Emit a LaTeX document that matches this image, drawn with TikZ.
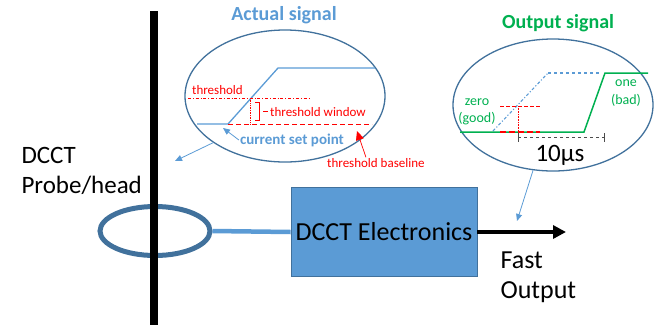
\documentclass[tikz,border=0pt]{standalone}
\usepackage{fontspec}
\setmainfont{Carlito}
\usepackage{xcolor}
\usetikzlibrary{arrows.meta,shapes.geometric,positioning}

\definecolor{rim}{RGB}{65,113,156}
\definecolor{sky}{RGB}{91,155,213}
\definecolor{okgreen}{RGB}{0,176,80}
\definecolor{alarm}{RGB}{255,0,0}

\tikzset{
	callout/.style={ellipse, draw=rim, line width=1.3pt, inner sep=0pt, minimum width=200pt, minimum height=132pt},
	bigtext/.style={font=\fontsize{26}{30}\selectfont},
	redtext/.style={alarm, font=\fontsize{13}{15}\selectfont, inner sep=1pt},
	greentext/.style={okgreen, font=\fontsize{14}{16}\selectfont, inner sep=1pt},
	pointer/.style={sky, line width=0.8pt, -{Triangle[length=7pt,width=6pt]}}
}

\begin{document}
\begin{tikzpicture}[x=1pt, y=-1pt]
			\useasboundingbox (0,0) rectangle (656,325);

			\node[ellipse, draw=rim, line width=5pt, inner sep=0pt, minimum width=110pt, minimum height=49pt] (ring) at (155,231) {};
			\draw[line width=8pt] (154,11) -- (154,325);
			\node[bigtext, anchor=base west, font=\fontsize{25}{30}\selectfont] (dccttop) at (18,163) {DCCT};
			\node[bigtext, anchor=base west, font=\fontsize{25}{30}\selectfont] (probe) at (18,193) {Probe/head};

			\node[rectangle, fill=sky, draw=rim, line width=0.8pt, minimum width=186pt, minimum height=89pt, inner sep=0pt, bigtext] (elec) at (384,232) {DCCT Electronics};
			\draw[sky, line width=4.5pt] (ring.east) -- (elec.west);
			\coordinate (fastend) at (566,232);
			\draw[line width=3.5pt, -{Triangle[length=13pt,width=13pt]}] (elec.east) -- (fastend);
			\node[bigtext, anchor=base west] (fast) at (497,268) {Fast};
			\node[bigtext, anchor=base west] (fastout) at (497,298) {Output};

			\node[callout] (actual) at (285,96) {};
			\node[sky, font=\fontsize{20}{24}\selectfont\bfseries] (actualtitle) at (284,15) {Actual signal};
			\draw[sky, line width=1.3pt] (197,124) -- (228,124) -- (278,68) -- (375,68);
			\draw[alarm, line width=0.7pt, dash dot] (188,98) -- (310,98);
			\node[redtext, anchor=base west] (thr) at (191,94) {threshold};
			\draw[alarm, line width=0.7pt, densely dotted] (250,98) -- (250,124);
			\draw[alarm, line width=0.7pt] (255,102) -- (259,102) -- (259,120) -- (255,120);
			\draw[alarm, line width=0.7pt] (263,111) -- (268,111);
			\node[redtext, anchor=west] (thrwin) at (269,112) {threshold window};
			\draw[alarm, line width=0.7pt, dash pattern=on 5pt off 3pt] (228,124) -- (372,124);
			\node[sky, font=\fontsize{15}{18}\selectfont\bfseries, inner sep=1pt] (setpt) at (292,140) {current set point};
			\coordinate (corner) at (223,128);
			\draw[pointer] (setpt.west) -- (corner);
			\node[redtext, anchor=west] (thrbase) at (326,163) {threshold baseline};
			\coordinate (basetip) at (357,131);
			\draw[alarm, line width=0.7pt, -{Triangle[length=9pt,width=8pt]}] (thrbase.150) -- (basetip);
			\coordinate (probetip) at (175,161);
			\draw[pointer] (actual.213) -- (probetip);

			\node[callout] (output) at (553,105) {};
			\node[okgreen, font=\fontsize{20}{24}\selectfont\bfseries] (outputtitle) at (558,23) {Output signal};
			\draw[sky, line width=1.1pt, dash dot] (493,131) -- (548,73);
			\draw[sky, line width=1.1pt, dashed] (548,73) -- (600,73);
			\draw[okgreen, line width=1.5pt] (460,132) -- (584,132) -- (605,73) -- (648,73);
			\draw[alarm, line width=0.6pt, dash pattern=on 4pt off 2pt] (500,106) -- (540,106);
			\draw[alarm, line width=0.6pt, densely dotted] (518,106) -- (518,132);
			\draw[alarm, line width=2pt, dash pattern=on 6pt off 3pt] (500,132) -- (540,132);
			\draw[black!70, line width=1pt] (518,133) -- (518,142);
			\draw[black!70, line width=1pt] (604,133) -- (604,142);
			\draw[black!70, line width=0.7pt, dashed] (518,137) -- (604,137);
			\node[font=\fontsize{25}{30}\selectfont] (tenus) at (560,155) {10µs};
			\node[greentext] (zero) at (477,102) {zero};
			\node[greentext] (good) at (477,119) {(good)};
			\node[greentext] (one) at (626,83) {one};
			\node[greentext] (bad) at (626,100) {(bad)};
			\coordinate (fasttip) at (517,221);
			\draw[pointer] (output.253) -- (fasttip);
		\end{tikzpicture}
\end{document}
